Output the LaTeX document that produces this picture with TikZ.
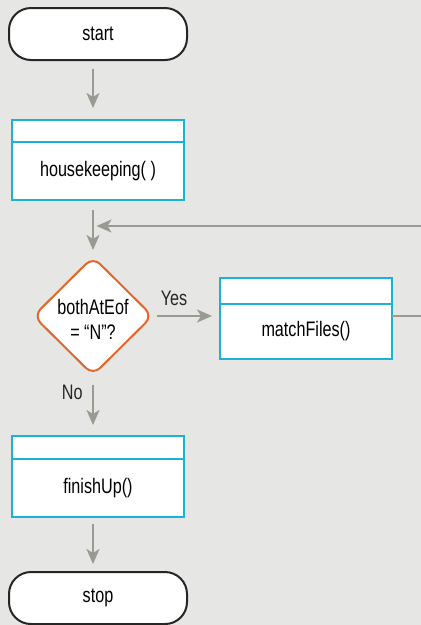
\documentclass[tikz,border=0pt]{standalone}
\usepackage{fontspec}
\setsansfont[FakeStretch=0.77]{Liberation Sans}
\usetikzlibrary{positioning, arrows.meta, shapes.geometric}

\definecolor{bggray}{HTML}{E6E6E4}
\definecolor{flowgray}{HTML}{9A9A93}
\definecolor{modcyan}{HTML}{1DB1D8}
\definecolor{decorange}{HTML}{E0682A}

\begin{document}
\begin{tikzpicture}[
	font=\sffamily\fontsize{21}{25}\selectfont,
	% Define styles
	terminal/.style={rectangle, draw=black!85, fill=white, rounded corners=22pt, line width=2pt, minimum width=178pt, minimum height=52pt, outer sep=0pt},
	modhead/.style={rectangle, draw=modcyan, fill=white, line width=2pt, minimum width=172pt, inner sep=0pt, outer sep=0pt},
	module/.style={rectangle, draw=modcyan, fill=white, line width=2pt, minimum width=172pt, outer sep=0pt},
	decision/.style={diamond, draw=decorange, fill=white, line width=2pt, rounded corners=10pt, minimum width=119pt, minimum height=116pt, inner sep=0pt, outer sep=0pt, align=center},
	flow/.style={-{Stealth[length=15pt, width=13pt, inset=4pt]}, line width=2.2pt, flowgray}
	]
	
	% Page background
	\fill[bggray] (0,0) rectangle (421pt,-625pt);
	\useasboundingbox (0,0) rectangle (421pt,-625pt);
	\clip (0,0) rectangle (421pt,-625pt);
	
	% 1. Start and housekeeping
	\node[terminal] (start) at (98pt,-34pt) {start};
	\node[modhead, minimum height=22pt, below=60pt of start] (hktop) {};
	\node[module, minimum height=58pt, below=0pt of hktop] (hk) {housekeeping( )};
	
	% 2. Loop test
	\node[decision, below=57pt of hk, xshift=-5pt] (dec) {\rule{0pt}{22pt}bothAtEof\\= “N”?};
	\node[module, minimum height=55pt, right=67.5pt of dec, yshift=-15pt] (mf) {matchFiles()};
	\node[modhead, minimum height=26pt, above=0pt of mf] (mftop) {};
	
	% 3. Finish and stop
	\node[modhead, minimum height=23pt, below=61pt of dec, xshift=5pt] (fintop) {};
	\node[module, minimum height=58pt, below=0pt of fintop] (fin) {finishUp()};
	\node[terminal, below=55pt of fin] (stop) {stop};
	
	% Where the loop comes back in
	\coordinate[below=26pt of hk.south] (back);
	
	% 4. Flow arrows
	\draw[flow, shorten <=9pt, shorten >=12pt] (start.south -| dec) -- (hktop.north -| dec);
	\draw[flow, shorten <=10pt, shorten >=7pt] (hk.south -| dec) -- (dec.north);
	\draw[flow, shorten <=4.5pt, shorten >=8pt] (dec.east) -- (dec.east -| mf.west) node[pos=0.32, above=6pt, text=black!85] {Yes};
	\draw[flow, shorten <=10pt, shorten >=11pt] (dec.south) -- (fintop.north -| dec) node[pos=0.28, left=6pt, text=black!85] {No};
	\draw[flow, shorten <=7pt, shorten >=8pt] (fin.south -| dec) -- (stop.north -| dec);
	
	% Loop back to the test
	\draw[flow, shorten >=3.5pt] (mf.east |- dec) -- ++(40pt,0) |- (back -| dec);
\end{tikzpicture}
\end{document}
